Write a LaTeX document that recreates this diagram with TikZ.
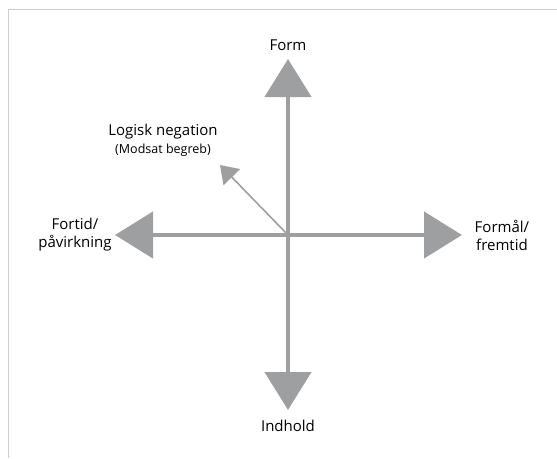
\documentclass[tikz,border=0pt]{standalone}
\usepackage{fontspec}
\setmainfont{Open Sans}
\usetikzlibrary{arrows.meta}
\definecolor{axisgray}{RGB}{158,159,161}
\definecolor{framegray}{RGB}{205,205,205}
\begin{document}
\begin{tikzpicture}[x=1pt,y=-1pt,
    axis/.style={axisgray, line width=4.5pt, -{Triangle[length=38pt,width=46pt]}},
    thinaxis/.style={axisgray, line width=1.6pt, -{Triangle[length=17pt,width=23pt]}},
    lbl/.style={font=\fontsize{15}{18}\selectfont, align=center, inner sep=0pt}]
        \useasboundingbox (0,0) rectangle (557,458);
        \draw[framegray, line width=1.4pt] (557,9.5) -- (8.5,9.5) -- (8.5,458);
        \coordinate (o) at (288,235);
        \coordinate (up) at (288,59);
        \coordinate (down) at (288,410);
        \coordinate (left) at (115,235);
        \coordinate (right) at (462,235);
        \coordinate (neg) at (220,165);
        \draw[axis] (o) -- (up);
        \draw[axis] (o) -- (down);
        \draw[axis] (o) -- (left);
        \draw[axis] (o) -- (right);
        \draw[thinaxis] (o) -- (neg);
        \node[lbl] (form) at (288,45) {Form};
        \node[lbl] (indhold) at (288,426) {Indhold};
        \node[lbl] (fortid) at (75,235) {Fortid/\\påvirkning};
        \node[lbl] (formaal) at (502,235) {Formål/\\fremtid};
        \node[lbl] (logisk) at (163,132) {Logisk negation};
        \node[lbl, font=\fontsize{12.5}{15}\selectfont] (modsat) at (163,150) {(Modsat begreb)};
    \end{tikzpicture}
\end{document}
